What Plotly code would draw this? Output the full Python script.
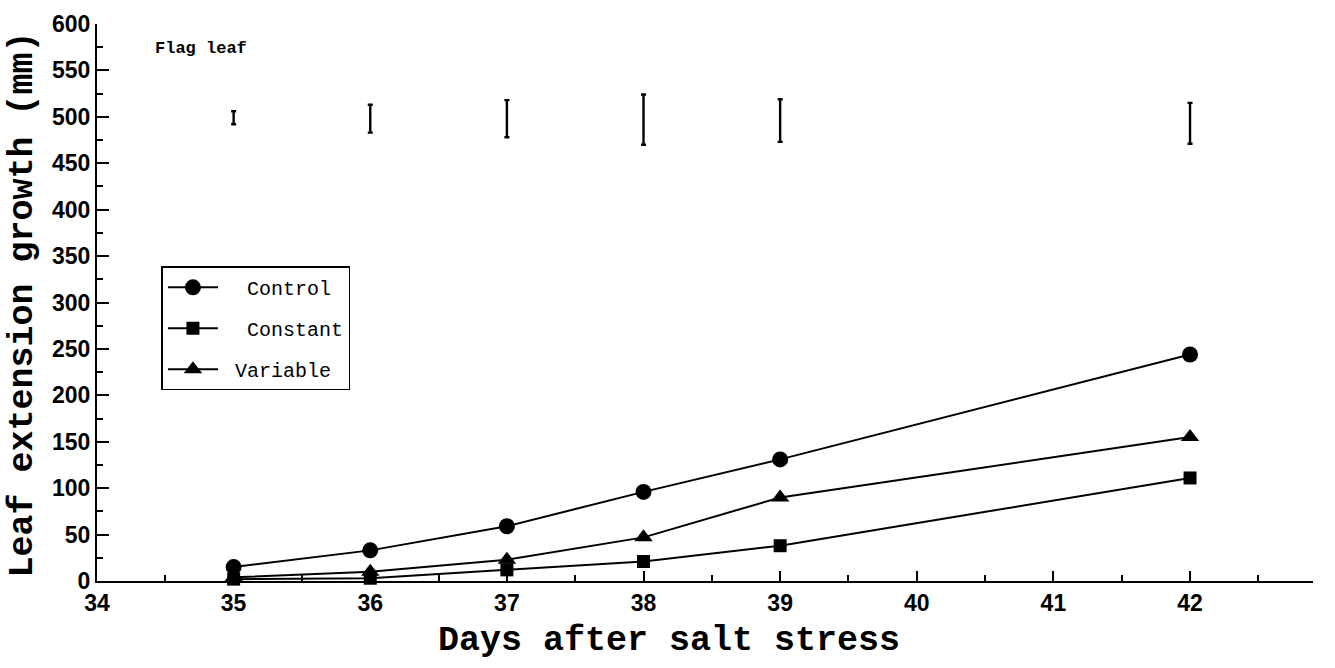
import plotly.graph_objects as go

days = [35, 36, 37, 38, 39, 42]
control = [15, 33, 59, 96, 131, 244]
constant = [2, 3, 12, 21, 38, 111]
variable = [4, 10, 23, 47, 90, 155]

err_center = [499, 498, 498, 497, 496, 493]
err_half = [7, 15, 20, 27, 23, 22]

x_ticks = [34, 35, 36, 37, 38, 39, 40, 41, 42]
y_ticks = list(range(0, 601, 50))

mono = "Liberation Mono, Courier New, monospace"
sans = "Liberation Sans, Arial, sans-serif"

fig = go.Figure()

series = [
    ("  Control", control, "circle", 16),
    ("  Constant", constant, "square", 13),
    (" Variable", variable, "triangle-up", 16),
]
for name, vals, sym, sz in series:
    fig.add_trace(go.Scatter(
        x=days, y=vals, name=name,
        mode="lines+markers",
        line=dict(color="black", width=2),
        marker=dict(symbol=sym, size=sz, color="black"),
        legendgroup=name, cliponaxis=False,
    ))

fig.add_trace(go.Scatter(
    x=days, y=err_center, mode="markers",
    marker=dict(size=1, color="black"),
    error_y=dict(type="data", array=err_half, color="black", thickness=2.4, width=2.5),
    showlegend=False, hoverinfo="skip",
))

fig.add_annotation(
    x=34.41, y=574, xref="x", yref="y", text="<b>Flag leaf</b>",
    showarrow=False, xanchor="left", yanchor="middle",
    font=dict(family=mono, size=17, color="black"),
)
fig.add_annotation(
    x=0.47, y=-0.107, xref="paper", yref="paper", text="<b>Days after salt stress</b>",
    showarrow=False, xanchor="center", yanchor="middle",
    font=dict(family=mono, size=35, color="black"),
)
fig.add_annotation(
    x=-0.061, y=0.496, xref="paper", yref="paper", text="<b>Leaf extension growth (mm)</b>",
    showarrow=False, xanchor="center", yanchor="middle", textangle=-90,
    font=dict(family=mono, size=35, color="black"),
)

fig.update_layout(
    width=1335, height=668,
    margin=dict(l=97, r=22, t=24, b=87),
    paper_bgcolor="white", plot_bgcolor="white",
    showlegend=True,
    legend=dict(
        x=0.053, y=0.565, xanchor="left", yanchor="top",
        bordercolor="black", borderwidth=1.5, bgcolor="white",
        font=dict(family=mono, size=20, color="black"),
        tracegroupgap=12, traceorder="grouped", itemwidth=50,
    ),
    xaxis=dict(
        range=[34, 42.9], tickmode="array", tickvals=x_ticks,
        ticks="inside", ticklen=10, tickwidth=1.5, tickcolor="black",
        minor=dict(dtick=0.5, tick0=34, ticks="inside", ticklen=6, tickwidth=1.5, tickcolor="black"),
        showline=True, linecolor="black", linewidth=2,
        showgrid=False, zeroline=False,
        tickfont=dict(family=sans, size=23, color="black", weight="bold"),
    ),
    yaxis=dict(
        range=[0, 600], tickmode="array", tickvals=y_ticks,
        ticks="inside", ticklen=12, tickwidth=1.5, tickcolor="black",
        minor=dict(dtick=25, tick0=0, ticks="inside", ticklen=6, tickwidth=1.5, tickcolor="black"),
        showline=True, linecolor="black", linewidth=2,
        showgrid=False, zeroline=False,
        tickfont=dict(family=sans, size=23, color="black", weight="bold"),
    ),
)

fig.write_html("out.html")
